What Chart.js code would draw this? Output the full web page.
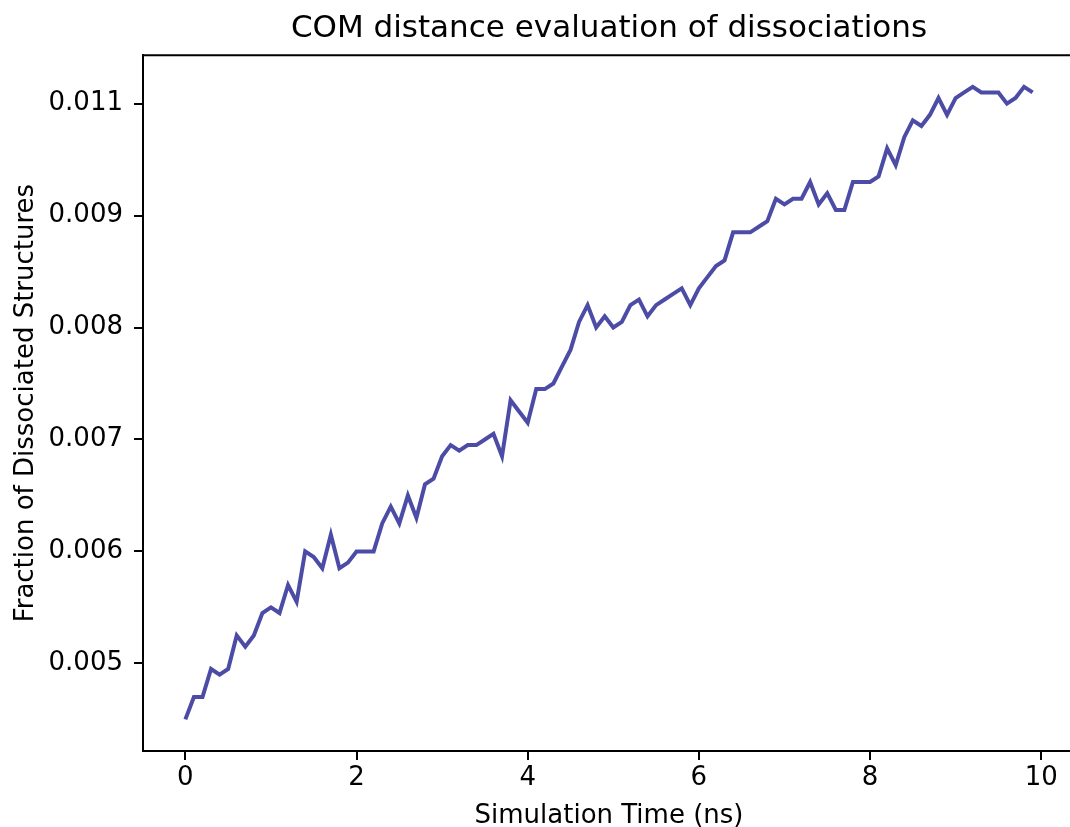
<!DOCTYPE html>
<html>
<head>
<meta charset="utf-8">
<script src="https://cdn.jsdelivr.net/npm/chart.js@4"></script>
<style>
  html, body { margin: 0; padding: 0; background: #fff; overflow: hidden; }
  #wrap { width: 1070px; height: 827px; overflow: hidden; position: relative; }
  canvas { display: block; }
</style>
</head>
<body>
<div id="wrap"><canvas id="comChart" width="1080" height="827"></canvas></div>
<script>
"use strict";
const times = [
  0.0, 0.1, 0.2, 0.3, 0.4, 0.5, 0.6, 0.7, 0.8, 0.9,
  1.0, 1.1, 1.2, 1.3, 1.4, 1.5, 1.6, 1.7, 1.8, 1.9,
  2.0, 2.1, 2.2, 2.3, 2.4, 2.5, 2.6, 2.7, 2.8, 2.9,
  3.0, 3.1, 3.2, 3.3, 3.4, 3.5, 3.6, 3.7, 3.8, 3.9,
  4.0, 4.1, 4.2, 4.3, 4.4, 4.5, 4.6, 4.7, 4.8, 4.9,
  5.0, 5.1, 5.2, 5.3, 5.4, 5.5, 5.6, 5.7, 5.8, 5.9,
  6.0, 6.1, 6.2, 6.3, 6.4, 6.5, 6.6, 6.7, 6.8, 6.9,
  7.0, 7.1, 7.2, 7.3, 7.4, 7.5, 7.6, 7.7, 7.8, 7.9,
  8.0, 8.1, 8.2, 8.3, 8.4, 8.5, 8.6, 8.7, 8.8, 8.9,
  9.0, 9.1, 9.2, 9.3, 9.4, 9.5, 9.6, 9.7, 9.8, 9.9,
];
const fractions = [
  0.0045, 0.0047, 0.0047, 0.00495, 0.0049, 0.00495, 0.00525, 0.00515, 0.00525, 0.00545,
  0.0055, 0.00545, 0.0057, 0.00555, 0.006, 0.00595, 0.00585, 0.00615, 0.00585, 0.0059,
  0.006, 0.006, 0.006, 0.00625, 0.0064, 0.00625, 0.0065, 0.0063, 0.0066, 0.00665,
  0.00685, 0.00695, 0.0069, 0.00695, 0.00695, 0.007, 0.00705, 0.00685, 0.00735, 0.00725,
  0.00715, 0.00745, 0.00745, 0.0075, 0.00765, 0.0078, 0.00805, 0.0082, 0.008, 0.0081,
  0.008, 0.00805, 0.0082, 0.00825, 0.0081, 0.0082, 0.00825, 0.0083, 0.00835, 0.0082,
  0.00835, 0.00845, 0.00855, 0.0086, 0.00885, 0.00885, 0.00885, 0.0089, 0.00895, 0.00915,
  0.0091, 0.00915, 0.00915, 0.0093, 0.0091, 0.0092, 0.00905, 0.00905, 0.0093, 0.0093,
  0.0093, 0.00935, 0.0096, 0.00945, 0.0097, 0.00985, 0.0098, 0.0099, 0.01005, 0.0099,
  0.01005, 0.0101, 0.01015, 0.0101, 0.0101, 0.0101, 0.01, 0.01005, 0.01015, 0.0101,
];
const xTicks = [0, 2, 4, 6, 8, 10];
const yTicks = [0.005, 0.006, 0.007, 0.008, 0.009, 0.010];
// labels as printed on the original figure (top one reads 0.011)
const yTickLabels = ["0.005", "0.006", "0.007", "0.008", "0.009", "0.011"];

const font = "'DejaVu Sans', sans-serif";

// top spine; the right one falls outside the cropped picture
const framePlugin = {
  id: "frame",
  afterDraw(chart) {
    const { ctx, chartArea: a } = chart;
    ctx.save();
    ctx.strokeStyle = "#000";
    ctx.lineWidth = 2;
    ctx.beginPath();
    ctx.moveTo(a.left, a.top);
    ctx.lineTo(chart.width, a.top);
    ctx.stroke();
    ctx.restore();
  },
};

const config = {
  type: "line",
  data: {
    datasets: [
      {
        data: times.map((t, i) => ({ x: t, y: fractions[i] })),
        borderColor: "rgba(0, 0, 128, 0.7)",
        borderWidth: 4,
        pointRadius: 0,
        tension: 0,
        fill: false,
      },
    ],
  },
  options: {
    responsive: false,
    animation: false,
    layout: { padding: { left: 0, right: 5, top: 0, bottom: 0 } },
    plugins: {
      legend: { display: false },
      tooltip: { enabled: false },
      title: {
        display: true,
        text: "COM distance evaluation of dissociations",
        fullSize: false,
        color: "#000",
        font: { family: font, size: 31, weight: "normal", lineHeight: 1.2 },
        padding: { top: 10, bottom: 8 },
      },
    },
    scales: {
      x: {
        type: "linear",
        min: -0.495,
        max: 10.395,
        afterBuildTicks: (scale) => {
          scale.ticks = xTicks.map((v) => ({ value: v }));
        },
        afterFit: (scale) => {
          scale.height = 76;
        },
        grid: {
          display: true,
          drawOnChartArea: false,
          drawTicks: true,
          tickLength: 9,
          lineWidth: 2,
          color: "#000",
        },
        border: { display: true, width: 2, color: "#000" },
        ticks: {
          color: "#000",
          padding: 3,
          maxRotation: 0,
          font: { family: font, size: 26, lineHeight: 1.2 },
          callback: (v) => String(v),
        },
        title: {
          display: true,
          text: "Simulation Time (ns)",
          color: "#000",
          font: { family: font, size: 26, lineHeight: 0.8 },
          padding: { top: 0, bottom: 0 },
        },
      },
      y: {
        type: "linear",
        min: 0.0042175,
        max: 0.0104325,
        afterBuildTicks: (scale) => {
          scale.ticks = yTicks.map((v) => ({ value: v }));
        },
        afterFit: (scale) => {
          scale.width = 143;
        },
        grid: {
          display: true,
          drawOnChartArea: false,
          drawTicks: true,
          tickLength: 9,
          lineWidth: 2,
          color: "#000",
        },
        border: { display: true, width: 2, color: "#000" },
        ticks: {
          color: "#000",
          padding: 11,
          font: { family: font, size: 26, lineHeight: 1.2 },
          callback: (v, i) => yTickLabels[i],
        },
        title: {
          display: true,
          text: "Fraction of Dissociated Structures",
          color: "#000",
          font: { family: font, size: 26, lineHeight: 1.2 },
          padding: { top: 11, bottom: 0 },
        },
      },
    },
  },
  plugins: [framePlugin],
};

const comChart = new Chart(document.getElementById("comChart"), config);
</script>
</body>
</html>
